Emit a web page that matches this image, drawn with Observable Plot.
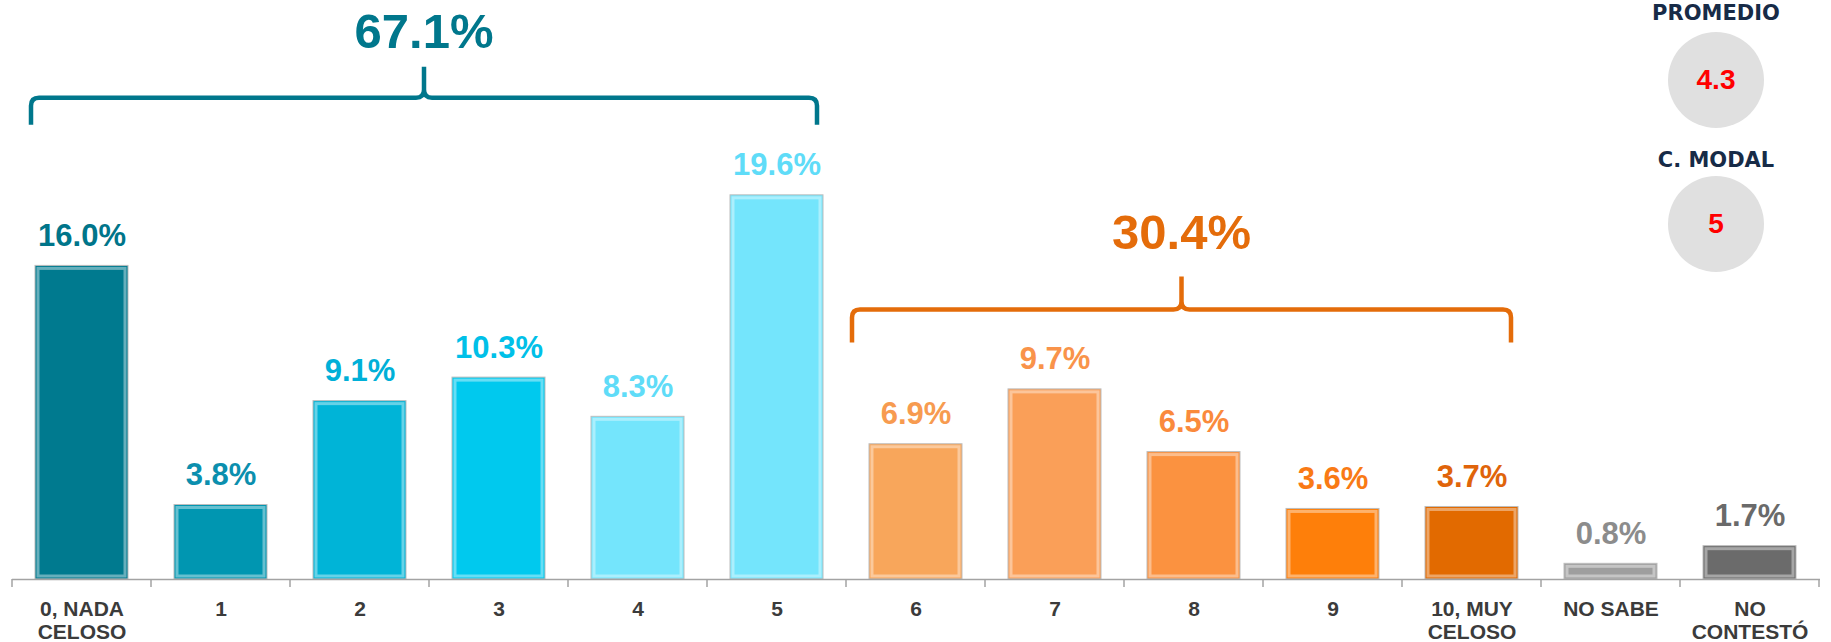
<!DOCTYPE html>
<html><head><meta charset="utf-8">
<script src="https://cdn.jsdelivr.net/npm/d3@7"></script>
<script src="https://cdn.jsdelivr.net/npm/@observablehq/plot@0.6"></script>
<style>
html,body{margin:0;padding:0;background:#fff;}
#wrap{position:relative;width:1831px;height:642px;overflow:hidden;}
#wrap svg{position:absolute;left:0;top:0;}
.stat-name{position:absolute;width:220px;left:1606px;text-align:center;font:bold 21px "DejaVu Sans",sans-serif;line-height:24px;color:#172b47;white-space:nowrap;}
.stat-circle{position:absolute;left:1668px;width:96px;height:96px;border-radius:50%;background:#e0e0e0;display:flex;align-items:center;justify-content:center;font:bold 28px "Liberation Sans",Arial,sans-serif;color:#ff0000;}
</style></head><body><div id="wrap"></div>
<script>
// ---- data ----
const categories = ["0, NADA\nCELOSO","1","2","3","4","5","6","7","8","9","10, MUY\nCELOSO","NO SABE","NO\nCONTESTÓ"];
const values = [16.0, 3.8, 9.1, 10.3, 8.3, 19.6, 6.9, 9.7, 6.5, 3.6, 3.7, 0.8, 1.7];
const barColors = ["#007a8f","#0096b1","#00b4d7","#00c9ee","#74e5fc","#74e5fc","#f8a65b","#fa9f58","#fb9240","#fe7f0a","#e26a00","#9e9e9e","#6b6b6b"];
const labelColors = ["#00758a","#0b8fae","#00b0d8","#00c0e8","#5fdcf8","#5fdcf8","#f79b50","#f9934a","#fa8a3c","#f97a15","#e0640a","#8c8c8c","#6a6a6a"];
const groupLabels = ["67.1%", "30.4%"];
const groupFirst = [0, 6];
const groupLast = [5, 10];
const groupColors = ["#00778c", "#e46c0a"];
const statNames = ["PROMEDIO", "C. MODAL"];
const statValues = ["4.3", "5"];

// ---- layout ----
const W = 1831, H = 642, MB = 63, ML = 12, MR = 11, PXPER = 19.6;
const braceLevel = [24.55, 13.75];   // y value of brace horizontal
const endDrop = [27, 33], tipRise = [31, 33], labelGap = [19, 28];
const shiftL = [-4, -17], shiftR = [-6, -7];
const valueFont = '"Liberation Sans", Arial, sans-serif';
const tickFont = '"Liberation Sans", Arial, sans-serif';

const data = categories.map((c, i) => ({cat: c, value: values[i], fill: barColors[i], lab: labelColors[i], text: values[i].toFixed(1) + "%"}));

const chart = Plot.plot({
  width: W, height: H, marginTop: 0, marginBottom: MB, marginLeft: ML, marginRight: MR,
  x: {domain: categories, paddingInner: 0.33, paddingOuter: 0.165, axis: null},
  y: {domain: [0, (H - MB) / PXPER], axis: null},
  color: {type: "identity"},
  style: {background: "transparent", overflow: "visible"},
  marks: [
    Plot.barY(data, {x: "cat", y: "value", fill: "fill", stroke: "#bdbdbd", strokeWidth: 1}),
    Plot.barY(data, {x: "cat", y: "value", fill: "none", stroke: "white", strokeOpacity: 0.4, strokeWidth: 3, inset: 3}),
    Plot.ruleY([0], {stroke: "#a3a3a3", strokeWidth: 1.5}),
    Plot.text(data, {x: "cat", y: "value", text: "text", fill: "lab", dy: -20, lineAnchor: "bottom",
      fontSize: 31, fontWeight: "bold", fontFamily: valueFont}),
    Plot.text(data, {x: "cat", y: 0, text: "cat", dy: 20, lineAnchor: "top", lineHeight: 1.1,
      fontSize: 21, fontWeight: "bold", fill: "#3b3b3b", fontFamily: tickFont})
  ]
});

const wrap = document.getElementById("wrap");
wrap.appendChild(chart);

const svg = d3.select(chart);
const xs = chart.scale("x"), ys = chart.scale("y");
const bw = xs.bandwidth;
const step = xs.step || bw / (1 - 0.33);
const gap = step - bw;

// axis ticks at band boundaries
const y0 = ys.apply(0);
const bounds = categories.map(c => xs.apply(c) - gap / 2);
bounds.push(xs.apply(categories[categories.length - 1]) + bw + gap / 2);
svg.append("g").selectAll("line").data(bounds).join("line")
  .attr("x1", d => d).attr("x2", d => d).attr("y1", y0).attr("y2", y0 + 8)
  .attr("stroke", "#a3a3a3").attr("stroke-width", 1.5);

// braces
function bracePath(x0, x1, xc, yh, yEnd, yTip, r) {
  return `M${x0},${yEnd} L${x0},${yh + r} Q${x0},${yh} ${x0 + r},${yh} L${xc - r},${yh} Q${xc},${yh} ${xc},${yh - r} L${xc},${yTip}` +
         ` M${xc},${yh - r} Q${xc},${yh} ${xc + r},${yh} L${x1 - r},${yh} Q${x1},${yh} ${x1},${yh + r} L${x1},${yEnd}`;
}
groupLabels.forEach((lab, g) => {
  const x0 = xs.apply(categories[groupFirst[g]]) + shiftL[g];
  const x1 = xs.apply(categories[groupLast[g]]) + bw + shiftR[g];
  const xc = (x0 + x1) / 2;
  const yh = ys.apply(braceLevel[g]);
  svg.append("path")
    .attr("d", bracePath(x0, x1, xc, yh, yh + endDrop[g], yh - tipRise[g], 8))
    .attr("fill", "none").attr("stroke", groupColors[g]).attr("stroke-width", 4.5)
    .attr("stroke-linecap", "butt");
  svg.append("text")
    .attr("x", xc).attr("y", yh - tipRise[g] - labelGap[g])
    .attr("text-anchor", "middle").attr("font-family", valueFont)
    .attr("font-weight", "bold").attr("font-size", 49)
    .attr("fill", groupColors[g]).text(lab);
});

// summary stats
const nameTops = [1, 148], circleTops = [32, 176];
statNames.forEach((n, i) => {
  const t = document.createElement("div");
  t.className = "stat-name"; t.style.top = nameTops[i] + "px"; t.textContent = n;
  wrap.appendChild(t);
  const c = document.createElement("div");
  c.className = "stat-circle"; c.style.top = circleTops[i] + "px"; c.textContent = statValues[i];
  wrap.appendChild(c);
});
</script>
</body></html>
